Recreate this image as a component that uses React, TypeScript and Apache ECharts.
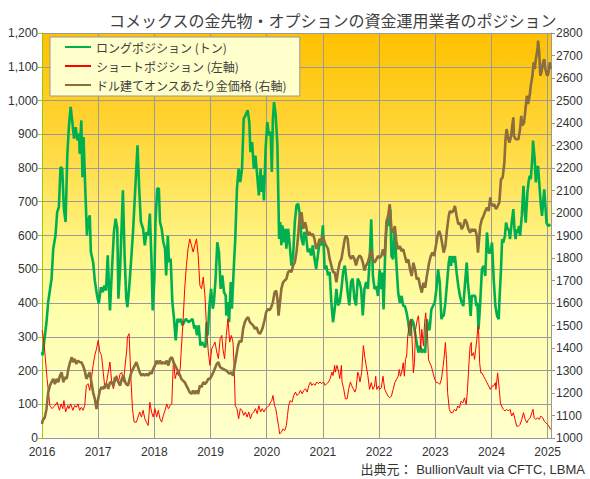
import React, { useEffect, useRef } from "react";
import * as echarts from "echarts";

const TITLE = "コメックスの金先物・オプションの資金運用業者のポジション";
const SOURCE = "出典元： BullionVault via CFTC, LBMA";
const SERIES_NAMES = ["ロングポジション (トン)", "ショートポジション (左軸)", "ドル建てオンスあたり金価格 (右軸)"];
const YEAR_MIN = 2016;
const YEAR_MAX = 2025.06;

// Managed money long position (tonnes), [decimal year, value]
const longPositions: [number, number][] = [
  [2016.00,255],[2016.01,245],[2016.08,343],[2016.11,403],[2016.17,472],[2016.20,561],[2016.24,600],[2016.27,669],[2016.30,684],[2016.33,803],[2016.36,798],[2016.39,679],[2016.42,640],[2016.45,837],[2016.48,926],[2016.51,981],[2016.54,936],[2016.57,887],[2016.60,921],[2016.63,882],[2016.66,902],[2016.67,842],[2016.70,941],[2016.72,773],[2016.74,892],[2016.77,739],[2016.80,600],[2016.82,640],[2016.85,660],[2016.87,551],[2016.91,521],[2016.94,467],[2016.98,422],
  [2017.01,398],[2017.05,447],[2017.08,432],[2017.11,452],[2017.14,437],[2017.17,541],[2017.20,413],[2017.21,378],[2017.24,482],[2017.28,610],[2017.31,650],[2017.34,620],[2017.36,413],[2017.39,501],[2017.42,640],[2017.44,734],[2017.47,541],[2017.50,413],[2017.52,388],[2017.55,442],[2017.58,511],[2017.62,610],[2017.66,739],[2017.70,867],[2017.73,739],[2017.76,640],[2017.80,620],[2017.83,571],[2017.86,610],[2017.89,600],[2017.92,665],[2017.95,521],[2017.97,378],
  [2018.00,472],[2018.02,640],[2018.05,739],[2018.08,739],[2018.10,640],[2018.13,620],[2018.16,580],[2018.19,561],[2018.21,482],[2018.24,600],[2018.26,521],[2018.29,531],[2018.32,403],[2018.35,353],[2018.38,289],[2018.41,353],[2018.44,343],[2018.47,353],[2018.50,334],[2018.56,353],[2018.61,343],[2018.68,353],[2018.71,324],[2018.73,334],[2018.76,304],[2018.79,334],[2018.82,274],[2018.85,284],[2018.88,274],[2018.91,269],[2018.93,343],[2018.95,304],[2018.98,393],
  [2019.01,442],[2019.04,383],[2019.06,403],[2019.09,472],[2019.12,580],[2019.15,551],[2019.18,442],[2019.21,482],[2019.24,432],[2019.27,422],[2019.28,363],[2019.31,403],[2019.33,343],[2019.36,462],[2019.38,383],[2019.41,492],[2019.44,590],[2019.47,739],[2019.50,798],[2019.53,758],[2019.56,798],[2019.59,946],[2019.62,956],[2019.66,971],[2019.69,936],[2019.71,847],[2019.74,877],[2019.77,798],[2019.80,837],[2019.83,778],[2019.86,719],[2019.89,798],[2019.91,729],[2019.93,778],[2019.95,704],[2019.98,857],
  [2020.01,936],[2020.04,897],[2020.07,907],[2020.09,788],[2020.11,946],[2020.13,995],[2020.16,956],[2020.19,867],[2020.21,689],[2020.22,590],[2020.24,640],[2020.26,571],[2020.28,630],[2020.30,580],[2020.33,620],[2020.35,561],[2020.38,620],[2020.41,571],[2020.44,511],[2020.47,541],[2020.50,640],[2020.53,689],[2020.56,694],[2020.59,660],[2020.62,590],[2020.65,571],[2020.67,610],[2020.70,600],[2020.73,551],[2020.76,561],[2020.79,541],[2020.82,571],[2020.85,531],[2020.88,501],[2020.91,541],[2020.94,580],[2020.97,571],
  [2021.00,630],[2021.03,501],[2021.06,511],[2021.09,482],[2021.12,492],[2021.15,403],[2021.18,343],[2021.21,383],[2021.24,442],[2021.27,393],[2021.30,403],[2021.33,442],[2021.36,492],[2021.39,511],[2021.41,482],[2021.44,432],[2021.47,393],[2021.50,462],[2021.53,472],[2021.56,413],[2021.59,393],[2021.62,472],[2021.65,462],[2021.68,442],[2021.71,363],[2021.74,442],[2021.77,462],[2021.80,442],[2021.83,520],[2021.86,648],[2021.89,480],[2021.92,441],[2021.95,450],[2021.98,421],
  [2022.01,500],[2022.04,441],[2022.06,490],[2022.08,381],[2022.11,559],[2022.14,648],[2022.17,628],[2022.20,678],[2022.22,539],[2022.25,530],[2022.27,619],[2022.29,579],[2022.31,510],[2022.34,431],[2022.37,401],[2022.40,421],[2022.43,391],[2022.46,391],[2022.49,371],[2022.52,342],[2022.55,302],[2022.58,352],[2022.61,342],[2022.64,312],[2022.67,282],[2022.70,253],[2022.73,273],[2022.76,253],[2022.79,263],[2022.82,253],[2022.85,352],[2022.88,322],[2022.90,322],[2022.93,381],[2022.96,391],[2022.99,401],
  [2023.02,441],[2023.05,500],[2023.08,460],[2023.11,352],[2023.13,362],[2023.15,362],[2023.18,401],[2023.21,460],[2023.24,520],[2023.26,539],[2023.28,510],[2023.30,539],[2023.32,520],[2023.35,539],[2023.38,490],[2023.41,450],[2023.44,421],[2023.47,401],[2023.50,391],[2023.53,460],[2023.56,520],[2023.58,460],[2023.61,411],[2023.63,362],[2023.65,421],[2023.68,421],[2023.71,421],[2023.73,391],[2023.75,401],[2023.77,322],[2023.80,401],[2023.83,500],[2023.86,510],[2023.89,480],[2023.92,609],[2023.95,549],[2023.98,549],
  [2024.01,579],[2024.04,470],[2024.07,391],[2024.10,362],[2024.13,352],[2024.14,401],[2024.17,500],[2024.19,589],[2024.21,579],[2024.24,599],[2024.26,638],[2024.29,618],[2024.31,618],[2024.33,589],[2024.36,638],[2024.39,678],[2024.41,618],[2024.43,589],[2024.45,618],[2024.47,609],[2024.49,628],[2024.51,599],[2024.54,658],[2024.57,747],[2024.59,678],[2024.61,638],[2024.64,727],[2024.66,757],[2024.68,777],[2024.70,767],[2024.73,836],[2024.74,881],[2024.77,826],[2024.79,757],[2024.81,797],[2024.83,806],[2024.85,757],[2024.88,688],[2024.90,658],[2024.92,698],[2024.94,737],[2024.96,688],[2024.98,638],
  [2025.01,628],[2025.05,633],
];

// Managed money short position (tonnes, left axis)
const shortPositions: [number, number][] = [
  [2016.00,320],[2016.01,314],[2016.05,255],[2016.09,176],[2016.14,96],[2016.18,87],[2016.23,96],[2016.27,106],[2016.31,82],[2016.34,101],[2016.37,87],[2016.39,111],[2016.42,77],[2016.46,96],[2016.48,87],[2016.51,101],[2016.55,82],[2016.58,96],[2016.61,91],[2016.64,101],[2016.67,82],[2016.70,91],[2016.73,82],[2016.76,96],[2016.79,156],[2016.82,161],[2016.85,141],[2016.88,176],[2016.91,215],[2016.94,245],[2016.97,264],
  [2017.00,289],[2017.03,255],[2017.06,245],[2017.09,195],[2017.12,146],[2017.15,166],[2017.18,195],[2017.21,225],[2017.24,166],[2017.27,146],[2017.30,166],[2017.33,185],[2017.36,166],[2017.39,190],[2017.42,195],[2017.45,166],[2017.48,215],[2017.51,264],[2017.52,299],[2017.55,309],[2017.58,185],[2017.61,87],[2017.64,47],[2017.68,47],[2017.71,62],[2017.74,77],[2017.77,62],[2017.80,82],[2017.83,57],[2017.86,47],[2017.89,37],[2017.92,106],[2017.95,77],[2017.98,62],
  [2018.01,87],[2018.04,62],[2018.07,82],[2018.10,57],[2018.13,47],[2018.16,67],[2018.19,82],[2018.22,101],[2018.25,87],[2018.28,96],[2018.31,101],[2018.34,235],[2018.37,176],[2018.40,195],[2018.43,185],[2018.46,205],[2018.48,264],[2018.51,343],[2018.54,442],[2018.57,511],[2018.60,561],[2018.63,590],[2018.66,571],[2018.69,551],[2018.72,571],[2018.75,590],[2018.78,541],[2018.81,452],[2018.84,442],[2018.87,477],[2018.90,422],[2018.93,324],[2018.96,255],[2018.99,215],
  [2019.02,264],[2019.05,274],[2019.08,284],[2019.11,255],[2019.14,235],[2019.17,294],[2019.20,304],[2019.22,264],[2019.25,235],[2019.28,304],[2019.31,353],[2019.34,284],[2019.37,304],[2019.40,284],[2019.42,215],[2019.44,96],[2019.47,87],[2019.50,57],[2019.53,87],[2019.56,82],[2019.59,67],[2019.62,77],[2019.65,62],[2019.68,77],[2019.71,57],[2019.74,72],[2019.77,77],[2019.80,87],[2019.83,72],[2019.86,96],[2019.89,77],[2019.92,87],[2019.95,77],[2019.98,87],
  [2020.01,91],[2020.04,96],[2020.07,106],[2020.09,111],[2020.11,126],[2020.14,96],[2020.16,87],[2020.18,67],[2020.21,37],[2020.23,12],[2020.26,17],[2020.29,27],[2020.32,22],[2020.35,37],[2020.37,67],[2020.39,96],[2020.42,111],[2020.45,106],[2020.48,126],[2020.51,136],[2020.54,126],[2020.57,131],[2020.60,141],[2020.63,131],[2020.66,141],[2020.69,146],[2020.72,136],[2020.75,156],[2020.78,166],[2020.80,156],[2020.83,161],[2020.86,156],[2020.89,166],[2020.92,161],[2020.95,166],[2020.98,161],
  [2021.01,166],[2021.04,156],[2021.07,161],[2021.10,166],[2021.13,176],[2021.16,195],[2021.18,185],[2021.21,215],[2021.22,195],[2021.25,215],[2021.28,195],[2021.30,176],[2021.33,215],[2021.34,166],[2021.37,146],[2021.40,116],[2021.43,116],[2021.46,146],[2021.49,166],[2021.51,156],[2021.54,146],[2021.57,136],[2021.59,146],[2021.62,195],[2021.64,185],[2021.66,166],[2021.69,195],[2021.72,274],[2021.75,235],[2021.77,215],[2021.80,185],[2021.83,144],[2021.86,164],[2021.89,144],[2021.92,154],[2021.94,183],[2021.96,144],[2021.99,154],
  [2022.01,144],[2022.04,149],[2022.07,183],[2022.10,144],[2022.13,134],[2022.16,124],[2022.19,119],[2022.22,124],[2022.25,144],[2022.28,164],[2022.31,174],[2022.34,183],[2022.36,203],[2022.38,183],[2022.40,193],[2022.43,223],[2022.45,183],[2022.47,233],[2022.49,243],[2022.51,302],[2022.54,342],[2022.56,352],[2022.58,322],[2022.61,193],[2022.63,223],[2022.65,322],[2022.68,352],[2022.70,362],[2022.73,302],[2022.74,263],[2022.76,322],[2022.79,273],[2022.81,342],[2022.83,371],[2022.86,312],[2022.88,233],[2022.90,223],[2022.93,213],[2022.96,193],[2022.99,174],
  [2023.02,164],[2023.05,164],[2023.08,159],[2023.11,174],[2023.14,213],[2023.16,243],[2023.18,283],[2023.20,233],[2023.22,134],[2023.25,85],[2023.28,75],[2023.31,75],[2023.34,85],[2023.37,80],[2023.40,95],[2023.43,89],[2023.46,109],[2023.49,104],[2023.52,119],[2023.55,99],[2023.57,134],[2023.60,223],[2023.62,273],[2023.64,283],[2023.65,243],[2023.68,253],[2023.70,233],[2023.72,263],[2023.74,292],[2023.76,332],[2023.77,322],[2023.79,223],[2023.81,193],[2023.83,193],[2023.86,183],[2023.89,174],[2023.92,164],[2023.95,154],[2023.98,144],
  [2024.01,154],[2024.04,154],[2024.07,164],[2024.08,144],[2024.11,193],[2024.14,144],[2024.16,104],[2024.18,95],[2024.21,85],[2024.24,80],[2024.27,85],[2024.30,80],[2024.33,85],[2024.36,65],[2024.39,75],[2024.42,55],[2024.45,35],[2024.48,35],[2024.51,40],[2024.54,55],[2024.57,75],[2024.60,55],[2024.63,45],[2024.66,55],[2024.69,60],[2024.72,75],[2024.74,85],[2024.76,60],[2024.79,55],[2024.82,60],[2024.85,55],[2024.88,65],[2024.91,60],[2024.94,50],[2024.97,45],
  [2025.00,40],[2025.04,30],[2025.05,25],
];

// Gold price, USD per ounce (right axis)
const goldPrice: [number, number][] = [
  [2016.00,1062],[2016.01,1077],[2016.05,1092],[2016.08,1129],[2016.11,1203],[2016.14,1233],[2016.17,1248],[2016.20,1263],[2016.23,1240],[2016.26,1263],[2016.29,1248],[2016.32,1277],[2016.35,1292],[2016.38,1248],[2016.41,1270],[2016.44,1263],[2016.47,1307],[2016.50,1337],[2016.53,1359],[2016.55,1337],[2016.58,1352],[2016.61,1329],[2016.64,1344],[2016.67,1337],[2016.70,1337],[2016.73,1322],[2016.76,1300],[2016.79,1263],[2016.82,1277],[2016.85,1292],[2016.88,1248],[2016.91,1203],[2016.94,1174],[2016.97,1129],
  [2017.00,1174],[2017.03,1211],[2017.06,1226],[2017.09,1218],[2017.12,1233],[2017.15,1240],[2017.18,1218],[2017.21,1248],[2017.24,1248],[2017.27,1233],[2017.30,1270],[2017.33,1263],[2017.36,1248],[2017.39,1233],[2017.42,1263],[2017.45,1277],[2017.48,1248],[2017.50,1240],[2017.53,1233],[2017.56,1263],[2017.59,1292],[2017.62,1307],[2017.65,1322],[2017.68,1337],[2017.71,1315],[2017.74,1292],[2017.77,1277],[2017.80,1285],[2017.83,1277],[2017.86,1285],[2017.89,1277],[2017.92,1292],[2017.95,1285],[2017.98,1307],
  [2018.01,1322],[2018.04,1344],[2018.07,1329],[2018.10,1344],[2018.13,1329],[2018.16,1337],[2018.19,1329],[2018.22,1344],[2018.25,1322],[2018.28,1352],[2018.31,1359],[2018.34,1337],[2018.37,1322],[2018.40,1307],[2018.43,1292],[2018.46,1277],[2018.48,1263],[2018.51,1255],[2018.54,1248],[2018.57,1233],[2018.60,1218],[2018.63,1203],[2018.66,1196],[2018.69,1211],[2018.72,1196],[2018.75,1211],[2018.78,1196],[2018.81,1233],[2018.84,1226],[2018.87,1248],[2018.90,1240],[2018.93,1248],[2018.96,1263],[2018.99,1263],
  [2019.05,1292],[2019.11,1329],[2019.14,1337],[2019.17,1315],[2019.22,1307],[2019.28,1300],[2019.34,1285],[2019.37,1292],[2019.40,1277],[2019.43,1322],[2019.46,1366],[2019.49,1411],[2019.52,1433],[2019.55,1426],[2019.58,1485],[2019.61,1515],[2019.64,1529],[2019.67,1537],[2019.70,1515],[2019.73,1507],[2019.76,1500],[2019.79,1485],[2019.82,1492],[2019.85,1470],[2019.88,1463],[2019.91,1478],[2019.93,1492],[2019.96,1522],[2019.99,1559],
  [2020.02,1574],[2020.05,1567],[2020.08,1581],[2020.11,1604],[2020.14,1648],[2020.17,1655],[2020.19,1618],[2020.21,1544],[2020.23,1589],[2020.26,1663],[2020.29,1692],[2020.32,1700],[2020.35,1707],[2020.38,1737],[2020.41,1744],[2020.44,1737],[2020.47,1767],[2020.50,1781],[2020.53,1826],[2020.56,1900],[2020.59,1996],[2020.60,1959],[2020.62,2004],[2020.65,1930],[2020.68,1959],[2020.70,1944],[2020.73,1900],[2020.76,1915],[2020.79,1900],[2020.82,1907],[2020.85,1885],[2020.88,1841],[2020.91,1855],[2020.94,1885],[2020.97,1870],
  [2021.00,1900],[2021.03,1870],[2021.06,1855],[2021.09,1841],[2021.12,1796],[2021.15,1767],[2021.18,1737],[2021.21,1737],[2021.24,1692],[2021.27,1744],[2021.30,1781],[2021.33,1796],[2021.36,1841],[2021.39,1885],[2021.41,1900],[2021.44,1885],[2021.47,1811],[2021.50,1796],[2021.53,1811],[2021.56,1796],[2021.59,1767],[2021.62,1796],[2021.65,1811],[2021.68,1804],[2021.71,1781],[2021.74,1744],[2021.77,1767],[2021.80,1781],[2021.83,1809],[2021.86,1839],[2021.89,1794],[2021.92,1779],[2021.95,1794],[2021.98,1809],
  [2022.01,1801],[2022.04,1809],[2022.07,1839],[2022.10,1809],[2022.13,1957],[2022.16,1987],[2022.19,2039],[2022.22,1928],[2022.25,1913],[2022.28,1942],[2022.31,1868],[2022.34,1839],[2022.37,1853],[2022.40,1831],[2022.43,1839],[2022.46,1809],[2022.49,1779],[2022.52,1794],[2022.55,1750],[2022.58,1720],[2022.61,1779],[2022.64,1750],[2022.67,1705],[2022.70,1712],[2022.73,1675],[2022.76,1646],[2022.79,1690],[2022.82,1668],[2022.85,1720],[2022.88,1764],[2022.89,1779],[2022.92,1809],[2022.95,1824],[2022.98,1809],
  [2023.01,1853],[2023.04,1898],[2023.07,1920],[2023.10,1898],[2023.13,1853],[2023.15,1824],[2023.18,1853],[2023.21,1928],[2023.24,1987],[2023.26,2009],[2023.29,2002],[2023.32,2009],[2023.35,2031],[2023.38,1987],[2023.41,1950],[2023.44,1957],[2023.47,1928],[2023.50,1942],[2023.53,1972],[2023.56,1957],[2023.59,1928],[2023.62,1913],[2023.65,1928],[2023.68,1920],[2023.71,1928],[2023.74,1898],[2023.76,1824],[2023.78,1883],[2023.80,1942],[2023.83,1972],[2023.86,1987],[2023.89,2009],[2023.92,2024],[2023.95,2009],[2023.98,2069],[2023.99,2046],
  [2024.02,2031],[2024.05,2039],[2024.08,2017],[2024.11,2031],[2024.14,2046],[2024.17,2150],[2024.20,2158],[2024.23,2224],[2024.25,2328],[2024.27,2373],[2024.30,2328],[2024.32,2313],[2024.35,2343],[2024.37,2388],[2024.39,2425],[2024.40,2343],[2024.43,2328],[2024.45,2328],[2024.48,2328],[2024.51,2373],[2024.53,2432],[2024.55,2388],[2024.58,2402],[2024.60,2447],[2024.63,2521],[2024.65,2484],[2024.68,2521],[2024.70,2566],[2024.73,2610],[2024.75,2670],[2024.77,2640],[2024.79,2684],[2024.82,2729],[2024.83,2766],[2024.85,2714],[2024.87,2610],[2024.89,2625],[2024.92,2670],[2024.94,2684],[2024.96,2640],[2024.99,2610],
  [2025.01,2618],[2025.04,2670],[2025.05,2640],
];

const FONT = "'Liberation Sans', Arial, 'Noto Sans CJK JP', sans-serif";
const JP_FONT = "'Noto Sans CJK JP', 'Liberation Sans', sans-serif";

export default function App() {
  const ref = useRef<HTMLDivElement>(null);

  useEffect(() => {
    if (!ref.current) return;
    const chart = echarts.init(ref.current, null, { renderer: "svg" });
    const gridGradient = new echarts.graphic.LinearGradient(0, 0, 0, 1, [
      { offset: 0, color: "#FFC000" },
      { offset: 0.25, color: "#FFD638" },
      { offset: 0.5, color: "#FFF27E" },
      { offset: 0.7, color: "#FFFFAE" },
      { offset: 1, color: "#FFFFCC" },
    ]);
    const option: any = {
      animation: false,
      backgroundColor: "#ffffff",
      title: {
        text: TITLE,
        left: 104,
        top: 7,
        textStyle: { fontSize: 16, fontWeight: "normal", color: "#404040", fontFamily: JP_FONT },
      },
      graphic: [
        {
          type: "text",
          right: 5,
          bottom: 3,
          style: { text: SOURCE, fontSize: 13, fill: "#333333", fontFamily: FONT },
        },
      ],
      legend: {
        left: 50,
        top: 37,
        orient: "vertical",
        backgroundColor: "#FFFFCC",
        borderColor: "#999999",
        borderWidth: 1,
        borderRadius: 0,
        padding: [3, 13, 4, 14],
        itemGap: 5,
        itemWidth: 26,
        itemHeight: 14,
        itemTextGap: 3,
        data: SERIES_NAMES,
        itemStyle: { opacity: 0, borderWidth: 0 },
        textStyle: { fontSize: 12, color: "#404040", fontFamily: JP_FONT, lineHeight: 14 },
      },
      grid: {
        left: 42,
        right: 39,
        top: 33,
        bottom: 41,
        show: true,
        backgroundColor: gridGradient,
        borderWidth: 0,
      },
      xAxis: {
        type: "value",
        min: YEAR_MIN,
        max: YEAR_MAX,
        interval: 1,
        axisLine: { show: true, lineStyle: { color: "#999999", width: 1 } },
        axisTick: { show: false },
        splitLine: { show: true, lineStyle: { color: "#9A9A9A", width: 1 } },
        axisLabel: {
          color: "#333333",
          fontSize: 12,
          fontFamily: FONT,
          margin: 8,
          showMaxLabel: true,
          formatter: (v: number) => (Math.abs(v - Math.round(v)) < 1e-6 ? String(Math.round(v)) : ""),
        },
      },
      yAxis: [
        {
          type: "value",
          position: "left",
          min: 0,
          max: 1200,
          interval: 100,
          axisLine: { show: true, lineStyle: { color: "#99CC00", width: 1 } },
          axisTick: { show: true, length: 4, lineStyle: { color: "#99CC00" } },
          splitLine: { show: true, lineStyle: { color: "#9A9A9A", width: 1 } },
          axisLabel: {
            color: "#333333",
            fontSize: 12,
            fontFamily: FONT,
            margin: 4,
            formatter: (v: number) => v.toLocaleString("en-US"),
          },
        },
        {
          type: "value",
          position: "right",
          min: 1000,
          max: 2800,
          interval: 100,
          axisLine: { show: true, lineStyle: { color: "#999999", width: 1 } },
          axisTick: { show: true, length: 4, lineStyle: { color: "#999999" } },
          splitLine: { show: false },
          axisLabel: {
            color: "#333333",
            fontSize: 12,
            fontFamily: FONT,
            margin: 5,
            formatter: (v: number) => String(v),
          },
        },
      ],
      series: [
        {
          name: SERIES_NAMES[0],
          type: "line",
          yAxisIndex: 0,
          data: longPositions,
          symbol: "none",
          lineStyle: { color: "#00B050", width: 2.6 },
          itemStyle: { color: "#00B050" },
        },
        {
          name: SERIES_NAMES[1],
          type: "line",
          yAxisIndex: 0,
          data: shortPositions,
          symbol: "none",
          lineStyle: { color: "#FF0000", width: 1 },
          itemStyle: { color: "#FF0000" },
        },
        {
          name: SERIES_NAMES[2],
          type: "line",
          yAxisIndex: 1,
          data: goldPrice,
          symbol: "none",
          lineStyle: { color: "#8C6D3C", width: 2.6 },
          itemStyle: { color: "#8C6D3C" },
        },
      ],
    };
    chart.setOption(option);
    return () => chart.dispose();
  }, []);

  return (
    <div
      ref={ref}
      style={{ position: "fixed", left: 0, top: 0, width: 590, height: 479, background: "#fff" }}
    />
  );
}
